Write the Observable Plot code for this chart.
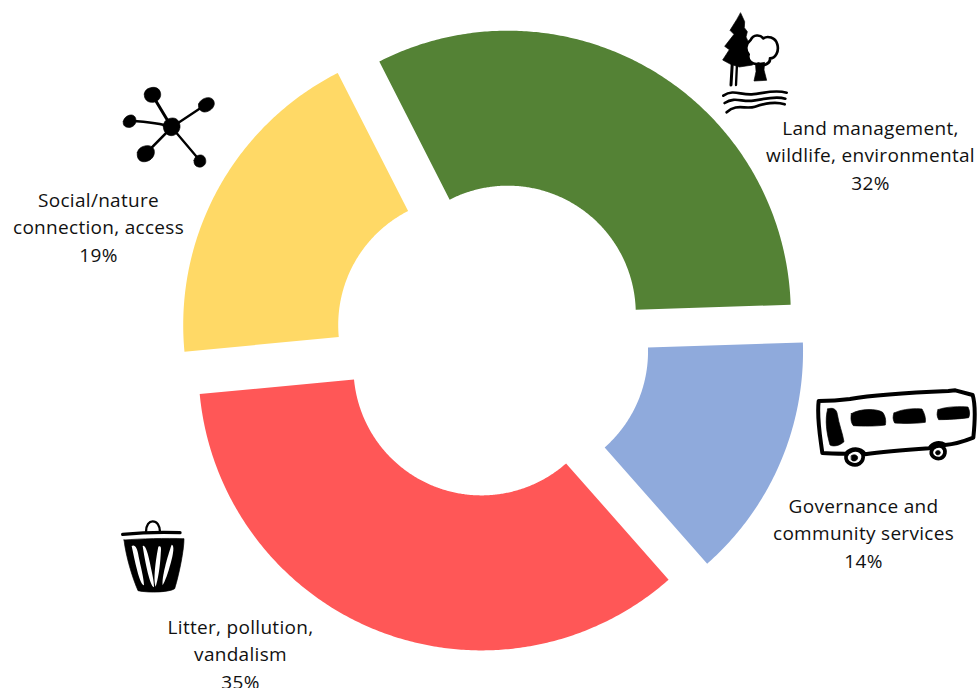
<!DOCTYPE html>
<html>
<head>
<meta charset="utf-8">
<script src="https://cdn.jsdelivr.net/npm/d3@7"></script>
<script src="https://cdn.jsdelivr.net/npm/@observablehq/plot@0.6"></script>
<style>
  html, body { margin: 0; padding: 0; background: #fff; overflow: hidden; }
  svg { display: block; }
</style>
</head>
<body>
<div id="chart"></div>
<script>
// Share of comments by theme, clockwise from the upper left of the ring.
const themes = ["Land management", "Governance", "Litter", "Social"];
const shares = [32, 14, 35, 19];
const colors = ["#548235", "#8FAADC", "#FF5757", "#FFD966"];
const labels = [
  "Land management,\nwildlife, environmental\n32%",
  "Governance and\ncommunity services\n14%",
  "Litter, pollution,\nvandalism\n35%",
  "Social/nature\nconnection, access\n19%"
];
const labelX = [378, 371, -252, -394];
const labelY = [-186, 192, 313, -114];

// Ring geometry, in the units of the x and y scales.
const startAngle = -27;
const outerRadius = 283;
const innerRadius = 128;
const explode = 30;

// Each slice becomes a closed outline, pushed out along its bisector.
function sliceOutline(name, a0, a1) {
  const toRad = (d) => (d * Math.PI) / 180;
  const mid = toRad((a0 + a1) / 2);
  const ox = explode * Math.sin(mid);
  const oy = -explode * Math.cos(mid);
  const steps = Math.ceil(a1 - a0) * 2;
  const rows = [];
  for (let i = 0; i <= steps; i++) {
    const a = toRad(a0 + ((a1 - a0) * i) / steps);
    rows.push({name, x: ox + outerRadius * Math.sin(a), y: oy - outerRadius * Math.cos(a)});
  }
  for (let i = steps; i >= 0; i--) {
    const a = toRad(a0 + ((a1 - a0) * i) / steps);
    rows.push({name, x: ox + innerRadius * Math.sin(a), y: oy - innerRadius * Math.cos(a)});
  }
  return rows;
}

let angle = startAngle;
const outlines = themes.flatMap((name, i) => {
  const a0 = angle;
  angle += (shares[i] / d3.sum(shares)) * 360;
  return sliceOutline(name, a0, angle);
});

const labelRows = labels.map((text, i) => ({text, x: labelX[i], y: labelY[i]}));

// Hand-drawn pictograms: [kind, path or shape], in a 3x drawing grid.
const treeIcon = [
  ["fill", "M92 24 L104 50 L103 68 L112 80 L108 96 L122 125 L128 180 L88 186 L62 178 L38 165 L58 134 L44 124 L72 88 L60 76 L80 44 Z"],
  ["line", "M67 172 L63 240", 9],
  ["line", "M81 176 L78 240", 7],
  ["blob", "M122 105 C130 88 150 88 160 100 C172 92 196 96 202 118 C208 140 196 160 180 160 C182 176 160 186 146 176 C130 180 110 168 116 148 C104 134 108 116 122 105 Z", 8],
  ["fill", "M137 176 L164 172 L162 195 L170 226 L132 228 L138 200 Z"],
  ["line", "M40 272 C70 252 90 270 125 268 C160 266 190 252 230 263", 8],
  ["line", "M44 294 C75 274 95 292 130 287 C165 282 195 272 226 281", 8],
  ["line", "M50 322 C80 294 105 314 135 305 C165 296 195 288 224 298", 8]
];
const starIcon = [
  ["line", "M185 142 L127 45", 9],
  ["line", "M185 142 L290 72", 7],
  ["line", "M185 142 C150 128 110 125 60 123", 7],
  ["line", "M185 142 L108 220", 8],
  ["line", "M185 142 L270 242", 7],
  ["fill", "M160 140 C160 122 174 114 188 114 C203 114 211 128 210 142 C208 157 196 167 184 167 C170 167 160 154 160 140 Z"],
  ["fill", "M103 42 C104 28 118 22 132 22 C146 23 153 34 152 46 C150 60 138 68 124 67 C110 66 102 56 103 42 Z"],
  ["fill", "M266 72 C270 60 284 52 298 53 C310 55 315 66 312 76 C308 88 294 97 282 96 C270 94 263 84 266 72 Z"],
  ["fill", "M40 124 C42 112 54 104 66 105 C76 107 80 118 77 128 C74 138 62 144 52 142 C43 140 38 134 40 124 Z"],
  ["fill", "M82 218 C84 204 100 196 116 197 C130 199 136 210 132 224 C128 238 112 247 98 245 C86 243 80 232 82 218 Z"],
  ["fill", "M252 242 C253 230 264 224 274 225 C284 227 289 238 287 248 C284 258 274 263 265 261 C256 259 251 252 252 242 Z"]
];
const busIcon = [
  ["blob", "M26 48 C60 48 90 46 120 42 C200 28 320 22 415 18 L436 16 L488 30 C497 60 495 110 490 158 C460 170 430 178 405 180 C390 170 370 172 358 190 C300 194 220 200 165 208 C150 188 125 188 108 206 C85 206 60 206 37 204 C30 150 20 100 26 48 Z", 12],
  ["fill", "M53 72 C68 66 80 72 82 88 C86 115 98 145 102 170 C90 182 70 186 60 180 C50 145 44 105 53 72 Z"],
  ["fill", "M124 86 C150 70 200 70 218 82 C228 96 228 110 226 120 C200 124 160 124 130 122 C122 112 122 98 124 86 Z"],
  ["fill", "M252 84 C280 70 320 70 336 72 C344 86 348 100 346 112 C320 116 280 116 254 114 C248 104 248 94 252 84 Z"],
  ["fill", "M384 74 C410 64 450 64 474 66 C480 78 480 90 476 98 C450 102 410 104 386 104 C380 94 380 84 384 74 Z"],
  ["blob", "M108 214 C112 198 134 190 150 198 C164 208 162 226 148 236 C132 246 106 234 108 214 Z", 11],
  ["fill", "M124 212 C132 206 144 210 143 219 C142 228 128 232 124 224 Z"],
  ["blob", "M364 200 C366 186 386 178 398 186 C410 196 406 214 392 220 C378 224 362 214 364 200 Z", 11],
  ["fill", "M377 200 C382 194 392 196 391 204 C389 211 378 212 377 205 Z"]
];
const binIcon = [
  ["line", "M38 73 C90 68 160 66 210 68", 10],
  ["line", "M108 66 C108 44 118 34 128 34 C140 34 150 46 150 66", 7],
  ["fill", "M42 90 C90 86 170 84 222 86 C222 120 208 190 194 236 C180 246 120 250 84 242 C66 200 48 140 42 90 Z"],
  ["white", "M65 108 C74 102 82 112 86 140 C92 170 102 205 102 226 C90 224 78 170 65 108 Z"],
  ["white", "M98 108 C106 102 114 130 120 160 C126 190 132 212 132 232 C120 228 106 160 98 108 Z"],
  ["white", "M145 110 C154 106 154 114 152 135 C150 170 144 210 137 230 C129 210 137 150 145 110 Z"],
  ["white", "M185 104 C194 106 190 130 182 160 C174 190 166 212 158 226 C154 205 172 140 185 104 Z"]
];

// Draws a pictogram with its corner at a position on the x and y scales.
function pictogram(parts, px, py) {
  return (index, {x, y}) => {
    const g = d3.create("svg:g")
      .attr("transform", `translate(${x(px)},${y(py)}) scale(${1 / 3})`)
      .attr("stroke-linecap", "round")
      .attr("stroke-linejoin", "round");
    for (const [kind, d, w] of parts) {
      const path = g.append("path").attr("d", d);
      if (kind === "fill") path.attr("fill", "#000").attr("stroke", "#000").attr("stroke-width", 2);
      if (kind === "white") path.attr("fill", "#fff");
      if (kind === "line") path.attr("fill", "none").attr("stroke", "#000").attr("stroke-width", w);
      if (kind === "blob") path.attr("fill", "#fff").attr("stroke", "#000").attr("stroke-width", w);
    }
    return g.node();
  };
}

const plot = Plot.plot({
  width: 977,
  height: 688,
  margin: 0,
  style: {letterSpacing: "0.3px", background: "#fff"},
  x: {domain: [-492, 485], axis: null},
  y: {domain: [-339, 349], range: [0, 688], axis: null},
  color: {domain: themes, range: colors},
  marks: [
    Plot.line(outlines, {x: "x", y: "y", z: "name", fill: "name", stroke: "none"}),
    Plot.text(labelRows, {
      x: "x",
      y: "y",
      text: "text",
      fontFamily: "'Open Sans', sans-serif",
      fontSize: 19,
      lineHeight: 1.45,
      fill: "#111"
    }),
    pictogram(treeIcon, 218, -334),
    pictogram(starIcon, -382, -259),
    pictogram(busIcon, 318, 46),
    pictogram(binIcon, -382, 171)
  ]
});
document.getElementById("chart").append(plot);
</script>
</body>
</html>
